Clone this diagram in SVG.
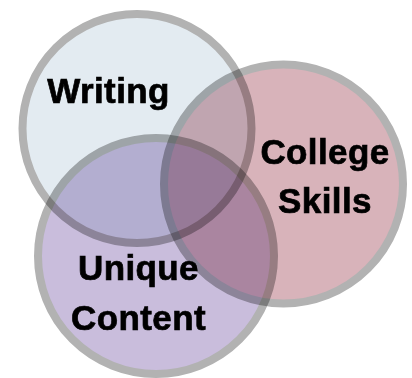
<svg xmlns="http://www.w3.org/2000/svg" width="412" height="378" viewBox="0 0 412 378">
<style>
.c{stroke:#b2b2b2;stroke-width:8;mix-blend-mode:multiply}
.t{font-family:"Liberation Sans",Arial,Helvetica,sans-serif;font-weight:bold;font-size:35px;letter-spacing:0.4px;fill:#000;stroke:#000;stroke-width:0.7;text-anchor:middle}
</style>
<rect width="412" height="378" fill="#fff"/>
<g id="writing">
<circle class="c" cx="137" cy="128.5" r="114.5" fill="#e3ebf1"/>
</g>
<g id="college-skills">
<circle class="c" cx="283.5" cy="184" r="119.5" fill="#d8b3ba"/>
</g>
<g id="unique-content">
<circle class="c" cx="156" cy="256" r="118" fill="#c9bddc"/>
</g>
<g id="labels">
<text class="t" x="108.5" y="103">Writing</text>
<text class="t" x="325" y="164">College</text>
<text class="t" x="325" y="213">Skills</text>
<text class="t" x="138.5" y="280">Unique</text>
<text class="t" x="138.5" y="330">Content</text>
</g>
</svg>
